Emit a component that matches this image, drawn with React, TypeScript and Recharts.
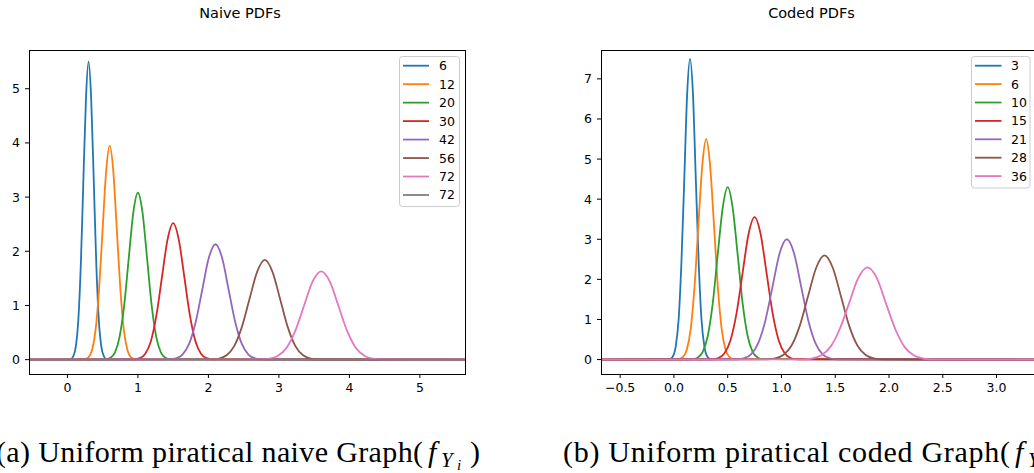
import { LineChart, Line, XAxis, YAxis } from "recharts";

type Pt = [number, number];

const SANS = "DejaVu Sans, sans-serif";
const SERIF = "Liberation Serif, serif";

const COLORS = [
  "#1f77b4",
  "#ff7f0e",
  "#2ca02c",
  "#d62728",
  "#9467bd",
  "#8c564b",
  "#e377c2",
  "#7f7f7f",
];

const NAIVE_LABELS = ["6", "12", "20", "30", "42", "56", "72", "72"];
const CODED_LABELS = ["3", "6", "10", "15", "21", "28", "36"];

const NAIVE_X_TICKS = [0, 1, 2, 3, 4, 5];
const NAIVE_Y_TICKS = [0, 1, 2, 3, 4, 5];
const CODED_X_TICKS = [-0.5, 0, 0.5, 1, 1.5, 2, 2.5, 3];
const CODED_Y_TICKS = [0, 1, 2, 3, 4, 5, 6, 7];

const NAIVE_X_DOMAIN: [number, number] = [-0.545, 5.64];
const NAIVE_Y_DOMAIN: [number, number] = [-0.265, 5.715];
const CODED_X_DOMAIN: [number, number] = [-0.678, 3.376];
const CODED_Y_DOMAIN: [number, number] = [-0.36, 7.72];

// naive panel
const naive6: Pt[] = [
  [-0.545, 0], [0.046, 0.01], [0.082, 0.06], [0.119, 0.24], [0.155, 0.74],
  [0.191, 1.79], [0.227, 3.34], [0.264, 4.85], [0.3, 5.5], [0.336, 4.85],
  [0.373, 3.34], [0.409, 1.79], [0.445, 0.74], [0.481, 0.24], [0.518, 0.06],
  [0.554, 0.01], [5.64, 0],
];
const naive12: Pt[] = [
  [-0.545, 0], [0.246, 0.01], [0.297, 0.04], [0.348, 0.17], [0.398, 0.53],
  [0.448, 1.28], [0.499, 2.4], [0.55, 3.49], [0.6, 3.95], [0.65, 3.49],
  [0.701, 2.4], [0.752, 1.28], [0.802, 0.53], [0.853, 0.17], [0.903, 0.04],
  [0.954, 0.01], [5.64, 0],
];
const naive20: Pt[] = [
  [-0.545, 0], [0.545, 0.007], [0.61, 0.034], [0.675, 0.135], [0.74, 0.42],
  [0.805, 1.0], [0.87, 1.87], [0.935, 2.72], [1.0, 3.08], [1.065, 2.72],
  [1.13, 1.87], [1.195, 1.0], [1.26, 0.42], [1.325, 0.135], [1.39, 0.034],
  [1.455, 0.007], [5.64, 0],
];
const naive30: Pt[] = [
  [-0.545, 0], [0.947, 0.006], [1.026, 0.028], [1.105, 0.11], [1.184, 0.34],
  [1.263, 0.82], [1.342, 1.53], [1.421, 2.22], [1.5, 2.52], [1.579, 2.22],
  [1.658, 1.53], [1.737, 0.82], [1.816, 0.34], [1.895, 0.11], [1.974, 0.028],
  [2.053, 0.006], [5.64, 0],
];
const naive42: Pt[] = [
  [-0.545, 0], [1.445, 0.005], [1.539, 0.024], [1.632, 0.094], [1.726, 0.29],
  [1.819, 0.69], [1.913, 1.29], [2.006, 1.88], [2.1, 2.13], [2.194, 1.88],
  [2.287, 1.29], [2.381, 0.69], [2.474, 0.29], [2.568, 0.094], [2.661, 0.024],
  [2.755, 0.005], [5.64, 0],
];
const naive56: Pt[] = [
  [-0.545, 0], [2.04, 0.004], [2.149, 0.02], [2.257, 0.081], [2.366, 0.25],
  [2.474, 0.6], [2.583, 1.12], [2.691, 1.62], [2.8, 1.84], [2.909, 1.62],
  [3.017, 1.12], [3.126, 0.6], [3.234, 0.25], [3.343, 0.081], [3.451, 0.02],
  [3.56, 0.004], [5.64, 0],
];
const naive72: Pt[] = [
  [-0.545, 0], [2.742, 0.004], [2.865, 0.018], [2.987, 0.072], [3.11, 0.22],
  [3.232, 0.53], [3.355, 0.99], [3.477, 1.44], [3.6, 1.63], [3.723, 1.44],
  [3.845, 0.99], [3.968, 0.53], [4.09, 0.22], [4.213, 0.072], [4.335, 0.018],
  [4.458, 0.004], [5.64, 0],
];
// second "72" entry is flat on zero
const naive72b: Pt[] = [[-0.545, 0], [5.64, 0]];

// coded panel
const coded3: Pt[] = [
  [-0.678, 0], [-0.036, 0.017], [-0.009, 0.083], [0.017, 0.33], [0.044, 1.01],
  [0.07, 2.44], [0.097, 4.55], [0.123, 6.62], [0.15, 7.5], [0.177, 6.62],
  [0.203, 4.55], [0.23, 2.44], [0.256, 1.01], [0.283, 0.33], [0.309, 0.083],
  [0.336, 0.017], [3.376, 0],
];
const coded6: Pt[] = [
  [-0.678, 0], [0.046, 0.01], [0.082, 0.06], [0.119, 0.24], [0.155, 0.74],
  [0.191, 1.79], [0.227, 3.34], [0.264, 4.85], [0.3, 5.5], [0.336, 4.85],
  [0.373, 3.34], [0.409, 1.79], [0.445, 0.74], [0.481, 0.24], [0.518, 0.06],
  [0.554, 0.01], [3.376, 0],
];
const coded10: Pt[] = [
  [-0.678, 0], [0.175, 0.009], [0.221, 0.048], [0.268, 0.19], [0.314, 0.58],
  [0.361, 1.4], [0.407, 2.61], [0.454, 3.79], [0.5, 4.3], [0.546, 3.79],
  [0.593, 2.61], [0.639, 1.4], [0.686, 0.58], [0.732, 0.19], [0.779, 0.048],
  [0.825, 0.009], [3.376, 0],
];
const coded15: Pt[] = [
  [-0.678, 0], [0.358, 0.008], [0.414, 0.039], [0.47, 0.156], [0.526, 0.48],
  [0.582, 1.15], [0.638, 2.15], [0.694, 3.13], [0.75, 3.55], [0.806, 3.13],
  [0.862, 2.15], [0.918, 1.15], [0.974, 0.48], [1.03, 0.156], [1.086, 0.039],
  [1.142, 0.008], [3.376, 0],
];
const coded21: Pt[] = [
  [-0.678, 0], [0.584, 0.007], [0.65, 0.033], [0.717, 0.13], [0.784, 0.41],
  [0.85, 0.97], [0.917, 1.82], [0.983, 2.65], [1.05, 3.0], [1.117, 2.65],
  [1.183, 1.82], [1.25, 0.97], [1.316, 0.41], [1.383, 0.13], [1.45, 0.033],
  [1.516, 0.007], [3.376, 0],
];
const coded28: Pt[] = [
  [-0.678, 0], [0.864, 0.006], [0.941, 0.029], [1.017, 0.114], [1.094, 0.35],
  [1.17, 0.84], [1.247, 1.58], [1.323, 2.29], [1.4, 2.6], [1.477, 2.29],
  [1.553, 1.58], [1.63, 0.84], [1.706, 0.35], [1.783, 0.114], [1.859, 0.029],
  [1.936, 0.006], [3.376, 0],
];
const coded36: Pt[] = [
  [-0.678, 0], [1.194, 0.005], [1.281, 0.026], [1.367, 0.1], [1.454, 0.31],
  [1.54, 0.75], [1.627, 1.39], [1.713, 2.03], [1.8, 2.3], [1.887, 2.03],
  [1.973, 1.39], [2.06, 0.75], [2.146, 0.31], [2.233, 0.1], [2.319, 0.026],
  [2.406, 0.005], [3.376, 0],
];

const NAIVE_SERIES = [naive6, naive12, naive20, naive30, naive42, naive56, naive72, naive72b];
const CODED_SERIES = [coded3, coded6, coded10, coded15, coded21, coded28, coded36];

const fmtInt = (v: number) => String(v);
const fmtDec = (v: number) => (v < 0 ? "\u2212" : "") + Math.abs(v).toFixed(1);

const tickStyle = { fill: "#000", fontSize: 12.5, fontFamily: SANS };

interface PanelProps {
  left: number;
  series: Pt[][];
  xDomain: [number, number];
  yDomain: [number, number];
  xTicks: number[];
  yTicks: number[];
  fmtX: (v: number) => string;
}

function Panel({ left, series, xDomain, yDomain, xTicks, yTicks, fmtX }: PanelProps) {
  return (
    <div style={{ position: "absolute", left, top: 0 }}>
      <LineChart width={480} height={400} margin={{ top: 50, right: 15, bottom: 0, left: 0 }}>
        <XAxis
          dataKey="x"
          type="number"
          domain={xDomain}
          allowDataOverflow
          ticks={xTicks}
          interval={0}
          tickFormatter={fmtX}
          height={26}
          tickSize={4}
          tickMargin={5}
          axisLine={false}
          tickLine={{ stroke: "#000" }}
          tick={tickStyle}
        />
        <YAxis
          type="number"
          domain={yDomain}
          allowDataOverflow
          ticks={yTicks}
          interval={0}
          tickFormatter={fmtInt}
          width={29}
          tickSize={4}
          tickMargin={5}
          axisLine={false}
          tickLine={{ stroke: "#000" }}
          tick={tickStyle}
        />
        {series.map((pts, i) => (
          <Line
            key={i}
            data={pts.map(([x, y]) => ({ x, y }))}
            dataKey="y"
            type="monotone"
            stroke={COLORS[i]}
            strokeWidth={1.8}
            dot={false}
            activeDot={false}
            isAnimationActive={false}
          />
        ))}
      </LineChart>
    </div>
  );
}

interface LegendProps {
  x: number;
  y: number;
  w: number;
  h: number;
  labels: string[];
  firstRow: number;
  step: number;
  lineX0: number;
  lineX1: number;
  textX: number;
}

function LegendBox({ x, y, w, h, labels, firstRow, step, lineX0, lineX1, textX }: LegendProps) {
  return (
    <g>
      <rect x={x} y={y} width={w} height={h} rx={3} fill="rgba(255,255,255,0.8)" stroke="#cccccc" />
      {labels.map((lab, i) => {
        const cy = firstRow + step * i;
        return (
          <g key={i}>
            <line x1={lineX0} x2={lineX1} y1={cy} y2={cy} stroke={COLORS[i]} strokeWidth={1.8} />
            <text x={textX} y={cy} dominantBaseline="central" fontSize={12.5} fontFamily={SANS} fill="#000">
              {lab}
            </text>
          </g>
        );
      })}
    </g>
  );
}

function Caption({ x, main, len, fx }: { x: number; main: string; len: number; fx: number }) {
  return (
    <g fontFamily={SERIF} fill="#000">
      <text x={x} y={462} fontSize={30} textLength={len} lengthAdjust="spacing">
        {main}
      </text>
      <text y={462} fontSize={30}>
        <tspan x={fx + 3} fontStyle="italic">f</tspan>
        <tspan x={fx + 16} dy={5} fontSize={21} fontStyle="italic">Y</tspan>
        <tspan x={fx + 32} dy={3} fontSize={15} fontStyle="italic">i</tspan>
        <tspan x={fx + 45} dy={-8}>)</tspan>
      </text>
    </g>
  );
}

export default function App() {
  return (
    <div
      style={{
        position: "fixed",
        left: 0,
        top: 0,
        width: 1034,
        height: 473,
        overflow: "hidden",
        background: "#fff",
      }}
    >
      <Panel
        left={0}
        series={NAIVE_SERIES}
        xDomain={NAIVE_X_DOMAIN}
        yDomain={NAIVE_Y_DOMAIN}
        xTicks={NAIVE_X_TICKS}
        yTicks={NAIVE_Y_TICKS}
        fmtX={fmtInt}
      />
      <Panel
        left={572}
        series={CODED_SERIES}
        xDomain={CODED_X_DOMAIN}
        yDomain={CODED_Y_DOMAIN}
        xTicks={CODED_X_TICKS}
        yTicks={CODED_Y_TICKS}
        fmtX={fmtDec}
      />
      <svg
        width={1034}
        height={473}
        style={{ position: "absolute", left: 0, top: 0, pointerEvents: "none" }}
      >
        <rect x={29.5} y={50.5} width={436} height={324} fill="none" stroke="#000" />
        <rect x={601.5} y={50.5} width={436} height={324} fill="none" stroke="#000" />
        <text x={240} y={18.3} textAnchor="middle" fontSize={14.5} fontFamily={SANS} fill="#000">
          Naive PDFs
        </text>
        <text x={811.5} y={18.3} textAnchor="middle" fontSize={14.5} fontFamily={SANS} fill="#000">
          Coded PDFs
        </text>
        <LegendBox
          x={399.5}
          y={56.5}
          w={60}
          h={150}
          labels={NAIVE_LABELS}
          firstRow={65.7}
          step={18.47}
          lineX0={403}
          lineX1={429}
          textX={439}
        />
        <LegendBox
          x={971.5}
          y={56.5}
          w={58.5}
          h={131.5}
          labels={CODED_LABELS}
          firstRow={65.7}
          step={18.4}
          lineX0={975}
          lineX1={1001.5}
          textX={1011}
        />
        <Caption x={-4} len={427} main="(a) Uniform piratical naive Graph(" fx={425} />
        <Caption x={563} len={447} main="(b) Uniform piratical coded Graph(" fx={1012} />
      </svg>
    </div>
  );
}
